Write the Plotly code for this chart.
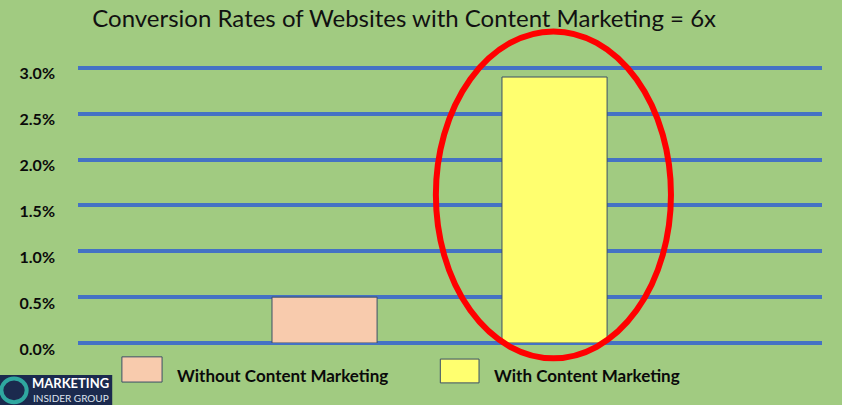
import plotly.graph_objects as go

# data
CATEGORIES = ["Without Content Marketing", "With Content Marketing"]
RATES = [0.005, 0.029]
COLORS = ["#F8CBAD", "#FFFF6F"]

BG = "#A1CB81"
GRID = "#4472C4"
FONT = "Lato, 'Open Sans', sans-serif"

fig = go.Figure()

for cat, rate, col in zip(CATEGORIES, RATES, COLORS):
    fig.add_trace(
        go.Bar(
            x=[cat],
            y=[rate],
            name=cat,
            marker=dict(color=col, line=dict(color="#3B4F66", width=1)),
            showlegend=False,
        )
    )

fig.update_layout(
    width=842,
    height=405,
    margin=dict(l=78, r=20, t=66, b=62),
    paper_bgcolor=BG,
    plot_bgcolor=BG,
    barmode="overlay",
    bargap=0.543,
    title=dict(
        text="Conversion Rates of Websites with Content Marketing = 6x",
        x=0.48,
        xanchor="center",
        y=0.953,
        yanchor="middle",
        font=dict(family=FONT, size=24, color="#111111"),
    ),
    font=dict(family=FONT, color="#111111"),
)

fig.update_xaxes(
    categoryorder="array",
    categoryarray=CATEGORIES,
    range=[-1.072, 2.163],
    showticklabels=False,
    showgrid=False,
    zeroline=False,
    showline=False,
)

fig.update_yaxes(
    range=[0, 0.0302],
    tickvals=[0, 0.005, 0.01, 0.015, 0.02, 0.025, 0.03],
    tickformat=".1%",
    tickfont=dict(family=FONT, size=16, color="#0A0A0A", weight="bold"),
    ticklabelstandoff=22,
    ticklabelshift=6,
    showgrid=True,
    gridcolor=GRID,
    gridwidth=4,
    zeroline=True,
    zerolinecolor=GRID,
    zerolinewidth=4,
    showline=False,
)

# legend drawn as boxes + text, bigger than plotly's own icons
legend_spots = [
    (0.059, 0.113, -0.141, -0.050, 0.130),
    (0.487, 0.539, -0.144, -0.058, 0.557),
]
for (x0, x1, y0, y1, xt), cat, col in zip(legend_spots, CATEGORIES, COLORS):
    fig.add_shape(
        type="rect", xref="paper", yref="paper",
        x0=x0, x1=x1, y0=y0, y1=y1,
        fillcolor=col, line=dict(color="#3B4F66", width=1),
    )
    fig.add_annotation(
        xref="paper", yref="paper", x=xt, y=-0.119,
        xanchor="left", yanchor="middle", showarrow=False,
        text=f"<b>{cat}</b>",
        font=dict(family=FONT, size=17, color="#0A0A0A"),
    )

# red ellipse around the content-marketing bar
fig.add_shape(
    type="circle", xref="paper", yref="paper",
    x0=0.481, x1=0.797, y0=-0.055, y1=1.125,
    line=dict(color="#FF0000", width=6),
    fillcolor="rgba(0,0,0,0)",
)

# logo block, bottom-left
fig.add_shape(
    type="rect", xref="paper", yref="paper",
    x0=-0.105, x1=0.046, y0=-0.224, y1=-0.1155,
    fillcolor="#1B2A4E", line=dict(width=0),
)
fig.add_shape(
    type="circle", xref="paper", yref="paper",
    x0=-0.103, x1=-0.069, y0=-0.214, y1=-0.128,
    fillcolor="#1B2A4E", line=dict(color="#2FA7A0", width=4),
)
fig.add_annotation(
    xref="paper", yref="paper", x=0.045, y=-0.144,
    xanchor="right", yanchor="middle", showarrow=False,
    text="<b>MARKETING</b>",
    font=dict(family=FONT, size=13, color="#FFFFFF"),
)
fig.add_annotation(
    xref="paper", yref="paper", x=0.045, y=-0.199,
    xanchor="right", yanchor="middle", showarrow=False,
    text="INSIDER GROUP",
    font=dict(family=FONT, size=10, color="#DDE3EE"),
)

fig.write_html(
    "out.html",
    config={"displayModeBar": False},
    post_script="document.body.style.margin='0';",
)
